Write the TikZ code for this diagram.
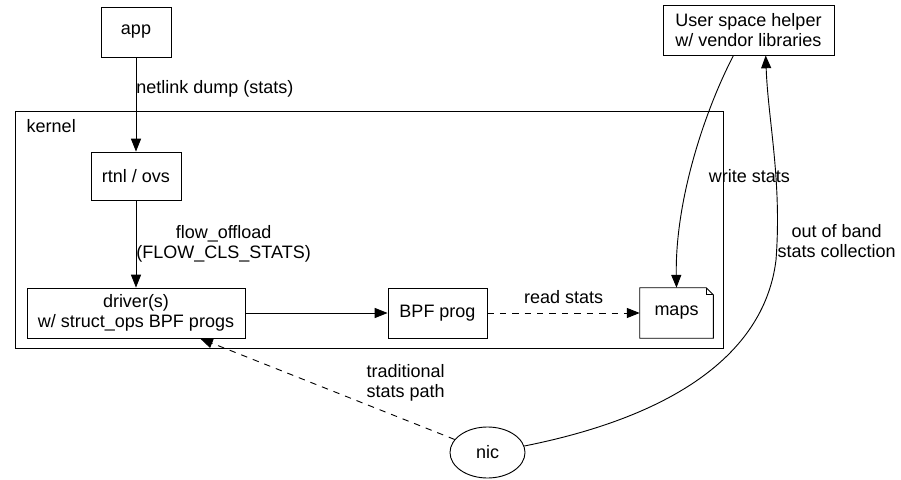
\documentclass[tikz,border=0pt]{standalone}
\usepackage{fontspec}
\setmainfont{Liberation Sans}
\usetikzlibrary{arrows.meta,shapes.geometric}

\begin{document}
\begin{tikzpicture}[x=0.025cm,y=-0.025cm,
font=\fontsize{12.8}{14.7}\selectfont,
box/.style={draw,line width=0.65pt,inner sep=0pt,align=center,minimum height=1.25cm},
arrowlabel/.style={inner sep=0pt,align=center},
arrow/.style={-{Triangle[length=3.2mm,width=2.5mm]},line width=0.65pt},
dasharrow/.style={arrow,dash pattern=on 1.6mm off 1.5mm}]

\useasboundingbox (0,0) rectangle (901,480);

\node[draw,line width=0.65pt,minimum width=17.675cm,minimum height=5.925cm] (kernel) at (369.5,229.5) {};
\node[anchor=north west,inner sep=0pt] (kernellabel) at ([xshift=2.75mm,yshift=-2.25mm]kernel.north west) {kernel};

\node[box,minimum width=1.75cm] (app) at (136,32) {app};
\node[box,minimum width=4.275cm] (helper) at (748.5,30) {User space helper\\w/ vendor libraries};
\node[box,minimum width=2.25cm,minimum height=1.2cm] (rtnl) at (136,176) {rtnl / ovs};
\node[box,minimum width=5.45cm] (driver) at (136,313) {driver(s)\\w/ struct\_ops BPF progs};
\node[box,minimum width=2.475cm] (bpf) at (437.5,313) {BPF prog};
\node[minimum width=1.825cm,minimum height=1.25cm,inner sep=0pt] (maps) at (676.5,313) {maps};
\draw[line width=0.65pt] (maps.south west) -- (maps.north west) -- ([xshift=-1.75mm]maps.north east) -- ([yshift=-1.75mm]maps.north east) -- (maps.south east) -- cycle;
\draw[line width=0.5pt] ([xshift=-1.75mm]maps.north east) |- ([yshift=-1.75mm]maps.north east);
\node[draw,ellipse,line width=0.65pt,minimum width=1.875cm,minimum height=1.275cm,inner sep=0pt] (nic) at (487.5,452.5) {nic};

\draw[arrow] (app) -- node[arrowlabel,anchor=west,pos=0.33] {netlink dump (stats)} (rtnl);
\draw[arrow] (rtnl) -- node[arrowlabel,anchor=west,pos=0.5] {flow\_offload\\(FLOW\_CLS\_STATS)} (driver);
\draw[arrow] (driver) -- (bpf);
\draw[dasharrow] (bpf) -- node[arrowlabel,above=2.1mm] {read stats} (maps);
\draw[dasharrow] (nic) -- node[arrowlabel,anchor=west,pos=0.56,xshift=1.35cm] {traditional\\stats path} (driver);

\draw[arrow] ([xshift=-3.75mm]helper.south) .. controls (705,110) and (675,200) .. node[arrowlabel,anchor=west,pos=0.57,xshift=4.75mm] {write stats} (maps.north);
\draw[arrow] (nic.10) .. controls (680,415) and (765,350) .. (776,260) .. controls (782,180) and (768,120) .. node[arrowlabel,anchor=west,pos=0.08] {out of band\\stats collection} ([xshift=4.3mm]helper.south);

\end{tikzpicture}
\end{document}
